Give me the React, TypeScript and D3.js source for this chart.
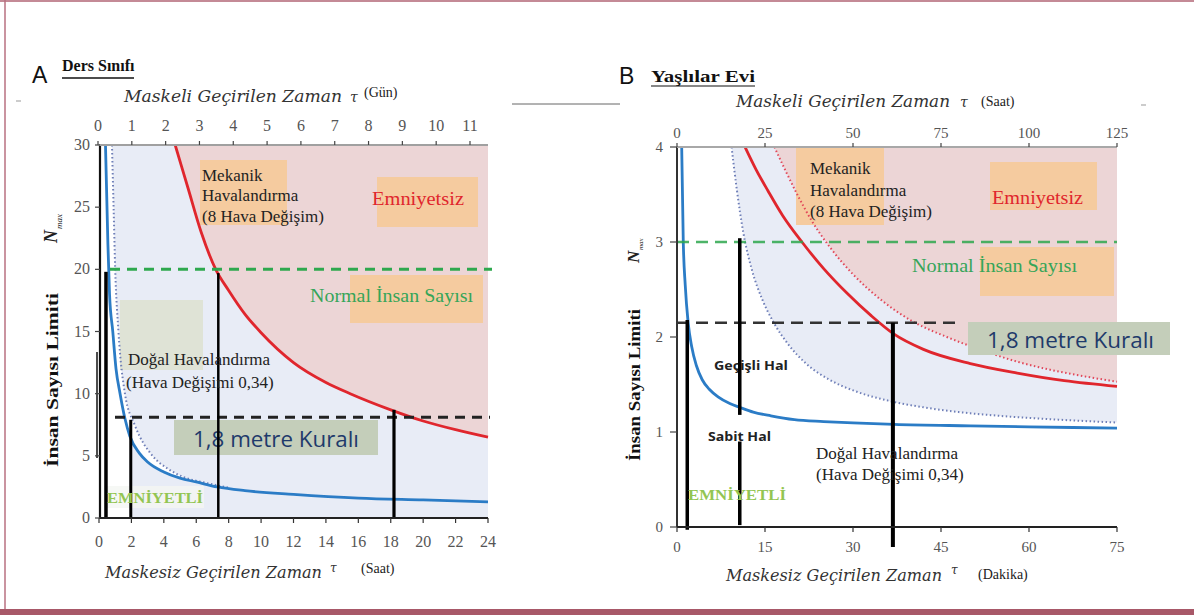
import React from "react";
import * as d3 from "d3";

// ---------- DATA ----------
const hourTicksA = [0, 2, 4, 6, 8, 10, 12, 14, 16, 18, 20, 22, 24];
const dayTicksA = [0, 1, 2, 3, 4, 5, 6, 7, 8, 9, 10, 11];
const nTicksA = [0, 5, 10, 15, 20, 25, 30];
const minTicksB = [0, 15, 30, 45, 60, 75];
const hourTopTicksB = [0, 25, 50, 75, 100, 125];
const nTicksB = [0, 1, 2, 3, 4];

// Panel A (x: hours, y: N)
const redA: [number, number][] = [
  [4.7, 30], [5.5, 26.5], [6.3, 23], [7.2, 20], [8, 18.3], [9, 16.4], [10, 14.9],
  [12, 12.5], [14, 10.9], [15.5, 10], [18, 8.7], [20, 7.8], [22, 7.1], [24, 6.5],
];
const blueA: [number, number][] = [
  [0.4, 30], [0.55, 22], [0.65, 18], [0.85, 15], [1.05, 12], [1.3, 10], [1.6, 8],
  [1.9, 6.6], [2.5, 5.2], [3, 4.5], [4, 3.7], [5, 3.2], [6, 2.9], [7.3, 2.5],
  [9, 2.2], [12, 1.9], [16, 1.6], [20, 1.45], [24, 1.3],
];
const dottedA: [number, number][] = [
  [0.8, 30], [0.9, 25], [1.0, 20], [1.2, 15], [1.6, 10], [2.2, 7.5], [3.3, 5],
  [4.2, 4], [5.2, 3.3], [6.5, 2.85], [8, 2.45],
];
const normalA = 20;
const ruleA = 8.1;
const markersA = [
  { t: 0.43, n0: 0, n1: 19.8, w: 3.5 },
  { t: 1.96, n0: 0, n1: 7.9, w: 3 },
  { t: 7.36, n0: 0, n1: 19.7, w: 2.5 },
  { t: 18.2, n0: 0, n1: 8.7, w: 3.2 },
];

// Panel B (x: minutes, y: N)
const blueB: [number, number][] = [
  [0.8, 4], [1.07, 3], [1.4, 2.55], [1.9, 2.15], [2.5, 1.9], [3.3, 1.7], [4.3, 1.55],
  [5.5, 1.45], [7, 1.37], [9, 1.3], [10.7, 1.26], [13, 1.21], [16, 1.17], [20, 1.13],
  [25, 1.11], [30, 1.095], [37, 1.08], [50, 1.065], [60, 1.055], [75, 1.04],
];
const dottedBlueB: [number, number][] = [
  [9.3, 4], [10.2, 3.55], [11.3, 3.1], [12.8, 2.7], [14.5, 2.4], [16.5, 2.15],
  [19, 1.92], [22, 1.72], [26, 1.55], [30.8, 1.42], [36, 1.33], [42, 1.26],
  [48, 1.21], [55, 1.17], [65, 1.13], [75, 1.1],
];
const redB: [number, number][] = [
  [11.6, 4], [13.5, 3.76], [15.5, 3.54], [18, 3.28], [21.3, 3.0], [25, 2.72],
  [29, 2.46], [33, 2.23], [37, 2.03], [42, 1.87], [50, 1.72], [58, 1.62],
  [66, 1.54], [75, 1.48],
];
const dottedRedB: [number, number][] = [
  [16.6, 4], [18.5, 3.75], [20.5, 3.5], [23, 3.22], [26, 2.95], [30, 2.66],
  [35, 2.38], [40, 2.17], [46, 2.0], [52, 1.86], [58, 1.74], [64, 1.65],
  [70, 1.58], [75, 1.53],
];
const normalB = 3;
const ruleB = 2.15;
const ruleBEnd = 47.4;
const markersB = [
  { t: 1.75, n0: -0.03, n1: 2.18, w: 3.5 },
  { t: 10.7, n0: 1.18, n1: 3.04, w: 3.5 },
  { t: 10.7, n0: 0.02, n1: 0.9, w: 3.5 },
  { t: 36.8, n0: -0.21, n1: 2.15, w: 4 },
];

// ---------- COLOURS ----------
const C = {
  blue: "#2b7cc6",
  dotBlue: "#6f7fb8",
  red: "#e0262d",
  dotRed: "#e2485a",
  pink: "#ecd5d6",
  light: "#e8ecf6",
  orange: "#f5cb9f",
  green: "#2ea84e",
  greenText: "#35a559",
  tick: "#555",
  navy: "#1f3a6b",
  ruleBox: "#c4ceba",
  safe: "#93c552",
};

type P = [number, number];

const SERIF = { fontFamily: '"Liberation Serif", "Times New Roman", serif' };
const MATH = { fontFamily: '"DejaVu Serif", serif', fontStyle: "italic" as const };
const SANS = { fontFamily: '"Liberation Sans", Arial, sans-serif' };
const CALIBRI = { fontFamily: '"Open Sans", "Liberation Sans", sans-serif' };

export default function App() {
  const xA = d3.scaleLinear().domain([0, 24]).range([99, 488]);
  const xAtop = d3.scaleLinear().domain([0, 11]).range([98, 470]);
  const yA = d3.scaleLinear().domain([0, 30]).range([518, 145]);
  const xB = d3.scaleLinear().domain([0, 75]).range([677, 1117]);
  const xBtop = d3.scaleLinear().domain([0, 125]).range([677, 1117]);
  const yB = d3.scaleLinear().domain([0, 4]).range([527, 147]);

  const curve = d3.curveMonotoneX;
  const lineA = d3.line<P>().x((d) => xA(d[0])).y((d) => yA(d[1])).curve(curve);
  const lineB = d3.line<P>().x((d) => xB(d[0])).y((d) => yB(d[1])).curve(curve);
  const aboveA = d3.area<P>().x((d) => xA(d[0])).y0(yA(30)).y1((d) => yA(d[1])).curve(curve);
  const belowA = d3.area<P>().x((d) => xA(d[0])).y0(yA(0)).y1((d) => yA(d[1])).curve(curve);
  const aboveB = d3.area<P>().x((d) => xB(d[0])).y0(yB(4)).y1((d) => yB(d[1])).curve(curve);

  const boundaryA: P[] = [...dottedA, ...blueA.filter((d) => d[0] > 8)];
  const underA: P[] = blueA.filter((d) => d[0] >= 1.9);

  return (
    <svg
      width={1194}
      height={615}
      style={{ position: "absolute", left: 0, top: 0, background: "#fff", ...SERIF }}
    >
      <rect x={0} y={0} width={1194} height={615} fill="#fff" />
      <line x1={0} x2={1194} y1={1} y2={1} stroke="#c48a96" strokeWidth={2} />
      <line x1={5} x2={5} y1={0} y2={610} stroke="#b87080" strokeWidth={1.5} />
      <rect x={0} y={609} width={1194} height={6} fill="#a85868" />

      <line x1={16} x2={21} y1={101} y2={101} stroke="#999" strokeWidth={1} />
      <line x1={512} x2={620} y1={104} y2={104} stroke="#666" strokeWidth={1} />
      <line x1={1141} x2={1146} y1={105} y2={105} stroke="#999" strokeWidth={1} />

      {/* ================= PANEL A ================= */}
      <text x={32} y={83} style={SANS} fontSize={23} fill="#111">A</text>
      <text x={62} y={71} style={SERIF} fontWeight="bold" fontSize={16} fill="#111">Ders Sınıfı</text>
      <line x1={62} x2={134} y1={78} y2={78} stroke="#111" strokeWidth={1.5} />

      <path d={aboveA(boundaryA) || ""} fill={C.light} />
      <path d={belowA(underA) || ""} fill={C.light} />
      <path d={aboveA(redA) || ""} fill={C.pink} />

      <rect x={200} y={160} width={87} height={65} fill={C.orange} />
      <rect x={377} y={177} width={101} height={50} fill={C.orange} />
      <rect x={350} y={275} width={133} height={48} fill={C.orange} />
      <rect x={120} y={300} width={83} height={70} fill="#dfe3d6" />
      <rect x={104} y={486} width={100} height={22} fill="#f4f6f2" opacity={0.8} />

      <path d={lineA(redA) || ""} fill="none" stroke={C.red} strokeWidth={2.8} />
      <path d={lineA(dottedA) || ""} fill="none" stroke={C.dotBlue} strokeWidth={2} strokeDasharray="1.5 2.5" />
      <path d={lineA(blueA) || ""} fill="none" stroke={C.blue} strokeWidth={2.8} />

      <line x1={110} x2={492} y1={yA(normalA)} y2={yA(normalA)} stroke={C.green} strokeWidth={3} strokeDasharray="10 7" />
      <line x1={115} x2={490} y1={yA(ruleA)} y2={yA(ruleA)} stroke="#222" strokeWidth={3} strokeDasharray="10 7" />

      <rect x={174} y={420} width={204} height={35} fill={C.ruleBox} />
      <text x={193} y={447} style={CALIBRI} fontSize={22} fill={C.navy} textLength={166} lengthAdjust="spacingAndGlyphs">1,8 metre Kuralı</text>

      {markersA.map((m, i) => (
        <line key={i} x1={xA(m.t)} x2={xA(m.t)} y1={yA(m.n0)} y2={yA(m.n1)} stroke="#000" strokeWidth={m.w} />
      ))}
      <line x1={97} x2={97} y1={352} y2={458} stroke="#111" strokeWidth={1.5} />

      <line x1={100} x2={100} y1={yA(30)} y2={yA(0)} stroke="#111" strokeWidth={2.2} />
      <line x1={xA(0)} x2={xA(24)} y1={yA(0)} y2={yA(0)} stroke="#222" strokeWidth={2} />
      <line x1={99} x2={488} y1={yA(30)} y2={yA(30)} stroke="#a0a0a0" strokeWidth={2} />
      {hourTicksA.map((t) => (
        <g key={t}>
          <line x1={xA(t)} x2={xA(t)} y1={yA(0)} y2={yA(0) + 5} stroke="#333" strokeWidth={1.2} />
          <text x={xA(t)} y={547} textAnchor="middle" style={SERIF} fontSize={16} fill={C.tick}>{t}</text>
        </g>
      ))}
      {dayTicksA.map((t) => (
        <g key={t}>
          <line x1={xAtop(t)} x2={xAtop(t)} y1={yA(30)} y2={yA(30) - 4} stroke="#444" strokeWidth={1.2} />
          <text x={xAtop(t)} y={131} textAnchor="middle" style={SERIF} fontSize={16} fill={C.tick}>{t}</text>
        </g>
      ))}
      {nTicksA.map((n) => (
        <g key={n}>
          <line x1={95} x2={100} y1={yA(n)} y2={yA(n)} stroke="#444" strokeWidth={1.2} />
          <text x={90} y={yA(n) + 5} textAnchor="end" style={SERIF} fontSize={16} fill={C.tick}>{n}</text>
        </g>
      ))}

      <text x={124} y={102} style={MATH} fontSize={16} fill="#333" textLength={218} lengthAdjust="spacingAndGlyphs">Maskeli Geçirilen Zaman</text>
      <text x={350} y={102} style={MATH} fontSize={14} fill="#333">τ</text>
      <text x={364} y={97} style={SERIF} fontSize={14} fill="#222">(Gün)</text>

      <text x={105} y={578} style={MATH} fontSize={16} fill="#333" textLength={217} lengthAdjust="spacingAndGlyphs">Maskesiz Geçirilen Zaman</text>
      <text x={330} y={572} style={MATH} fontSize={12} fill="#333">τ</text>
      <text x={361} y={573} style={SERIF} fontSize={14} fill="#222">(Saat)</text>

      <text transform="translate(58,467) rotate(-90)" style={SERIF} fontWeight="bold" fontSize={17} fill="#111" textLength={174} lengthAdjust="spacingAndGlyphs">İnsan Sayısı Limiti</text>
      <g transform="translate(57,243) rotate(-90)" style={SERIF}>
        <text x={0} y={0} fontStyle="italic" fontWeight="bold" fontSize={18} fill="#222">N</text>
        <text x={14} y={5} fontStyle="italic" fontSize={9} fill="#222">max</text>
      </g>

      <g style={SERIF} fontSize={17} fill="#222">
        <text x={202} y={181}>Mekanik</text>
        <text x={202} y={201}>Havalandırma</text>
        <text x={202} y={222}>(8 Hava Değişim)</text>
      </g>
      <text x={372} y={205} style={SERIF} fontSize={18} fill={C.red} textLength={92} lengthAdjust="spacingAndGlyphs">Emniyetsiz</text>
      <text x={310} y={302} style={SERIF} fontSize={18} fill={C.greenText} textLength={163} lengthAdjust="spacingAndGlyphs">Normal İnsan Sayısı</text>
      <g style={SERIF} fontSize={17} fill="#222">
        <text x={128} y={365}>Doğal Havalandırma</text>
        <text x={126} y={388}>(Hava Değişimi 0,34)</text>
      </g>
      <text x={107} y={503} style={SERIF} fontSize={14} fontWeight="bold" fill={C.safe} textLength={96} lengthAdjust="spacingAndGlyphs">EMNİYETLİ</text>

      {/* ================= PANEL B ================= */}
      <text x={619} y={84} style={SANS} fontSize={23} fill="#111">B</text>
      <text x={651} y={82} style={SERIF} fontWeight="bold" fontSize={16} fill="#111" textLength={104} lengthAdjust="spacingAndGlyphs">Yaşlılar Evi</text>
      <line x1={651} x2={755} y1={86} y2={86} stroke="#111" strokeWidth={1.2} />

      <path d={aboveB(dottedBlueB) || ""} fill={C.light} />
      <path d={aboveB(dottedRedB) || ""} fill={C.pink} />

      <rect x={796} y={147} width={88} height={78} fill={C.orange} />
      <rect x={990} y={162} width={107} height={48} fill={C.orange} />
      <rect x={980} y={247} width={134} height={49} fill={C.orange} />

      <path d={lineB(dottedRedB) || ""} fill="none" stroke={C.dotRed} strokeWidth={2} strokeDasharray="1.5 2.5" />
      <path d={lineB(redB) || ""} fill="none" stroke={C.red} strokeWidth={2.8} />
      <path d={lineB(dottedBlueB) || ""} fill="none" stroke={C.dotBlue} strokeWidth={2} strokeDasharray="1.5 2.5" />
      <path d={lineB(blueB) || ""} fill="none" stroke={C.blue} strokeWidth={2.8} />

      <line x1={677} x2={1117} y1={yB(normalB)} y2={yB(normalB)} stroke={C.green} strokeWidth={2.5} strokeDasharray="12 7" opacity={0.85} />
      <line x1={677} x2={xB(ruleBEnd)} y1={yB(ruleB)} y2={yB(ruleB)} stroke="#333" strokeWidth={2.5} strokeDasharray="12 7" />

      <rect x={968} y={322} width={202} height={33} fill={C.ruleBox} />
      <text x={987} y={348} style={CALIBRI} fontSize={21} fill={C.navy} textLength={167} lengthAdjust="spacingAndGlyphs">1,8 metre Kuralı</text>

      <g style={CALIBRI} fontWeight="bold" fontSize={13} fill="#222">
        <text x={714} y={370} textLength={74} lengthAdjust="spacingAndGlyphs">Geçişli Hal</text>
        <text x={708} y={441} textLength={63} lengthAdjust="spacingAndGlyphs">Sabit Hal</text>
      </g>

      {markersB.map((m, i) => (
        <line key={i} x1={xB(m.t)} x2={xB(m.t)} y1={yB(m.n0)} y2={yB(m.n1)} stroke="#000" strokeWidth={m.w} />
      ))}

      <line x1={677} x2={677} y1={yB(4)} y2={yB(0)} stroke="#333" strokeWidth={2} />
      <line x1={xB(0)} x2={xB(75)} y1={yB(0)} y2={yB(0)} stroke="#222" strokeWidth={2} />
      <line x1={677} x2={1117} y1={yB(4)} y2={yB(4)} stroke="#a8a8a8" strokeWidth={2} />
      {minTicksB.map((t) => (
        <g key={t}>
          <line x1={xB(t)} x2={xB(t)} y1={yB(0)} y2={yB(0) + 5} stroke="#333" strokeWidth={1.2} />
          <text x={xB(t)} y={552} textAnchor="middle" style={SERIF} fontSize={15} fill={C.tick}>{t}</text>
        </g>
      ))}
      {hourTopTicksB.map((t) => (
        <g key={t}>
          <line x1={xBtop(t)} x2={xBtop(t)} y1={yB(4)} y2={yB(4) - 4} stroke="#444" strokeWidth={1.2} />
          <text x={xBtop(t)} y={138} textAnchor="middle" style={SERIF} fontSize={15} fill={C.tick}>{t}</text>
        </g>
      ))}
      {nTicksB.map((n) => (
        <g key={n}>
          <line x1={670} x2={677} y1={yB(n)} y2={yB(n)} stroke="#444" strokeWidth={1.2} />
          <text x={663} y={yB(n) + 5} textAnchor="end" style={SERIF} fontSize={15} fill={C.tick}>{n}</text>
        </g>
      ))}

      <text x={736} y={107} style={MATH} fontSize={16} fill="#333" textLength={214} lengthAdjust="spacingAndGlyphs">Maskeli Geçirilen Zaman</text>
      <text x={960} y={107} style={MATH} fontSize={14} fill="#333">τ</text>
      <text x={981} y={106} style={SERIF} fontSize={14} fill="#222">(Saat)</text>

      <text x={726} y={581} style={MATH} fontSize={16} fill="#333" textLength={216} lengthAdjust="spacingAndGlyphs">Maskesiz Geçirilen Zaman</text>
      <text x={951} y={574} style={MATH} fontSize={12} fill="#333">τ</text>
      <text x={978} y={579} style={SERIF} fontSize={14} fill="#222">(Dakika)</text>

      <text transform="translate(640,461) rotate(-90)" style={SERIF} fontWeight="bold" fontSize={16} fill="#111" textLength={152} lengthAdjust="spacingAndGlyphs">İnsan Sayısı Limiti</text>
      <g transform="translate(639,263) rotate(-90)" style={SERIF}>
        <text x={0} y={0} fontStyle="italic" fontWeight="bold" fontSize={17} fill="#222">N</text>
        <text x={13} y={4} fontStyle="italic" fontSize={7} fill="#222">max</text>
      </g>

      <g style={SERIF} fontSize={17} fill="#222">
        <text x={810} y={174}>Mekanik</text>
        <text x={810} y={196}>Havalandırma</text>
        <text x={810} y={217}>(8 Hava Değişim)</text>
      </g>
      <text x={992} y={204} style={SERIF} fontSize={18} fill={C.red} textLength={91} lengthAdjust="spacingAndGlyphs">Emniyetsiz</text>
      <text x={912} y={272} style={SERIF} fontSize={18} fill={C.greenText} textLength={165} lengthAdjust="spacingAndGlyphs">Normal İnsan Sayısı</text>
      <g style={SERIF} fontSize={17} fill="#222">
        <text x={816} y={459}>Doğal Havalandırma</text>
        <text x={816} y={480}>(Hava Değişimi 0,34)</text>
      </g>
      <text x={688} y={500} style={SERIF} fontSize={14} fontWeight="bold" fill={C.safe} textLength={98} lengthAdjust="spacingAndGlyphs">EMNİYETLİ</text>
    </svg>
  );
}
